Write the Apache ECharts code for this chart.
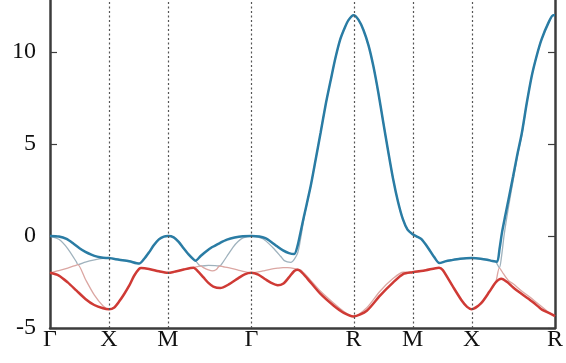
<!DOCTYPE html>
<html>
<head>
<meta charset="utf-8">
<script src="https://cdn.jsdelivr.net/npm/echarts@6/dist/echarts.min.js"></script>
<style>
  html, body { margin: 0; padding: 0; background: #ffffff; }
  #chart { width: 566px; height: 363px; }
</style>
</head>
<body>
<div id="chart"></div>
<script>
// High-symmetry points along the k-path (cumulative path length)
const kTicks = [0, 1, 2, 3.414, 5.146, 6.146, 7.146, 8.56];
const kLabels = ['Γ', 'X', 'M', 'Γ', 'R', 'M', 'X', 'R'];
const energyTicks = [-5, 0, 5, 10];

// Bands as [k, E] pairs, sorted from top to bottom
const bandTop = [
  [0,0],[0.15,-0.03],[0.28,-0.16],[0.4,-0.42],[0.5,-0.66],[0.6,-0.86],[0.7,-1.01],[0.8,-1.12],[0.9,-1.18],[1,-1.2],
  [1.174,-1.29],[1.342,-1.37],[1.51,-1.5],[1.594,-1.25],[1.678,-0.89],[1.762,-0.49],[1.846,-0.18],[1.93,-0.03],[2,0],
  [2.097,-0.07],[2.181,-0.32],[2.265,-0.67],[2.349,-1.0],[2.433,-1.27],[2.466,-1.34],[2.55,-1.1],[2.64,-0.85],[2.75,-0.6],[2.88,-0.38],[3.0,-0.2],[3.13,-0.08],[3.27,-0.01],[3.414,0],
  [3.55,-0.03],[3.65,-0.12],[3.75,-0.32],[3.85,-0.56],[3.95,-0.78],[4.05,-0.93],[4.14,-0.98],[4.195,-0.55],[4.25,0.25],[4.307,1.1],[4.418,2.7],[4.5,4.1],[4.586,5.6],[4.67,7.1],[4.76,8.5],[4.84,9.7],[4.921,10.7],[5.0,11.35],[5.062,11.75],[5.146,12.0],
  [5.23,11.75],[5.313,11.2],[5.4,10.35],[5.48,9.25],[5.565,7.8],[5.648,6.2],[5.73,4.65],[5.816,3.1],[5.9,1.85],[5.983,0.9],[6.06,0.35],[6.146,0.1],
  [6.22,-0.03],[6.292,-0.16],[6.404,-0.62],[6.515,-1.16],[6.599,-1.47],[6.7,-1.38],[6.795,-1.32],[6.95,-1.24],[7.146,-1.2],
  [7.3,-1.23],[7.411,-1.29],[7.5,-1.36],[7.579,-1.4],[7.62,-0.7],[7.662,0.2],[7.72,1.15],[7.773,2.0],[7.85,3.25],[7.92,4.4],[7.998,5.6],[8.08,7.2],[8.166,8.7],[8.25,9.8],[8.334,10.7],[8.45,11.6],[8.529,12.0],[8.56,12.0]
];

const bandUpperMid = [
  [0,0],[0.15,-0.18],[0.3,-0.68],[0.45,-1.42],[0.472,-1.56],[0.6,-1.42],[0.755,-1.3],[0.9,-1.22],[1,-1.2],
  [1.174,-1.29],[1.342,-1.37],[1.51,-1.5],[1.594,-1.25],[1.678,-0.89],[1.762,-0.49],[1.846,-0.18],[1.93,-0.03],[2,0],
  [2.097,-0.07],[2.181,-0.32],[2.265,-0.67],[2.349,-1.0],[2.433,-1.27],[2.466,-1.34],[2.517,-1.55],[2.56,-1.63],[2.685,-1.6],[2.8,-1.61],[2.874,-1.63],[2.936,-1.4],[3.02,-1.0],[3.104,-0.6],[3.188,-0.3],[3.272,-0.1],[3.414,0],
  [3.607,-0.15],[3.775,-0.62],[3.909,-1.1],[3.971,-1.34],[4.082,-1.43],[4.195,-0.95],[4.25,-0.1],[4.307,1.0],[4.418,2.7],[4.5,4.1],[4.586,5.6],[4.67,7.1],[4.76,8.5],[4.84,9.7],[4.921,10.7],[5.0,11.35],[5.062,11.75],[5.146,12.0],
  [5.23,11.75],[5.313,11.2],[5.4,10.35],[5.48,9.25],[5.565,7.8],[5.648,6.2],[5.73,4.65],[5.816,3.1],[5.9,1.85],[5.983,0.9],[6.06,0.35],[6.146,0.1],
  [6.22,-0.03],[6.292,-0.16],[6.404,-0.62],[6.515,-1.16],[6.599,-1.47],[6.7,-1.38],[6.795,-1.32],[6.95,-1.24],[7.146,-1.2],
  [7.3,-1.23],[7.411,-1.29],[7.5,-1.36],[7.555,-1.4],[7.617,-1.73],[7.65,-1.2],[7.7,0.1],[7.773,1.6],[7.85,3.0],[7.92,4.3],[7.998,5.5],[8.08,7.2],[8.166,8.7],[8.25,9.8],[8.334,10.7],[8.45,11.6],[8.529,12.0],[8.56,12.0]
];

const bandLowerMid = [
  [0,-2],[0.15,-1.88],[0.3,-1.74],[0.45,-1.58],[0.472,-1.56],[0.6,-2.35],[0.75,-3.2],[0.9,-3.8],[1,-3.98],
  [1.09,-3.88],[1.174,-3.55],[1.258,-3.15],[1.342,-2.7],[1.426,-2.16],[1.51,-1.79],[1.544,-1.74],[1.678,-1.79],[1.846,-1.92],[2,-2],
  [2.097,-1.95],[2.265,-1.82],[2.433,-1.72],[2.517,-1.65],[2.56,-1.63],[2.601,-1.72],[2.685,-1.84],[2.75,-1.9],[2.82,-1.82],[2.874,-1.63],[2.936,-1.67],[3.02,-1.72],[3.188,-1.85],[3.3,-1.94],[3.414,-2],
  [3.53,-1.95],[3.607,-1.9],[3.75,-1.8],[3.86,-1.75],[3.95,-1.72],[4.027,-1.72],[4.195,-1.8],[4.25,-1.85],[4.36,-2.2],[4.586,-3.0],[4.81,-3.65],[4.98,-4.1],[5.146,-4.37],
  [5.37,-3.9],[5.594,-3.0],[5.818,-2.3],[5.985,-1.97],[6.146,-1.97],
  [6.37,-1.86],[6.594,-1.72],[6.657,-1.85],[6.82,-2.7],[6.988,-3.55],[7.07,-3.85],[7.146,-3.98],
  [7.3,-3.68],[7.45,-3.02],[7.555,-2.52],[7.617,-1.73],[7.685,-2.05],[7.773,-2.43],[7.85,-2.6],[8.0,-3.0],[8.15,-3.35],[8.3,-3.75],[8.45,-4.15],[8.56,-4.35]
];

const bandBottom = [
  [0,-2],[0.15,-2.15],[0.3,-2.52],[0.45,-2.97],[0.6,-3.42],[0.75,-3.75],[0.9,-3.93],[1,-3.98],
  [1.09,-3.88],[1.174,-3.55],[1.258,-3.15],[1.342,-2.7],[1.426,-2.16],[1.51,-1.79],[1.544,-1.74],[1.678,-1.79],[1.846,-1.92],[2,-2],
  [2.097,-1.95],[2.265,-1.82],[2.433,-1.72],[2.517,-1.95],[2.601,-2.25],[2.685,-2.55],[2.768,-2.75],[2.886,-2.83],[3.02,-2.65],[3.188,-2.3],[3.3,-2.08],[3.414,-2],
  [3.53,-2.1],[3.65,-2.35],[3.75,-2.55],[3.86,-2.68],[3.95,-2.6],[4.05,-2.25],[4.14,-1.9],[4.195,-1.83],[4.25,-1.92],[4.36,-2.3],[4.586,-3.15],[4.81,-3.79],[4.98,-4.18],[5.146,-4.37],
  [5.37,-4.06],[5.594,-3.24],[5.818,-2.52],[5.985,-2.07],[6.146,-1.97],
  [6.37,-1.86],[6.594,-1.72],[6.657,-1.85],[6.82,-2.7],[6.988,-3.55],[7.07,-3.85],[7.146,-3.98],
  [7.3,-3.68],[7.45,-3.02],[7.555,-2.52],[7.651,-2.32],[7.75,-2.5],[7.852,-2.8],[8.003,-3.17],[8.188,-3.6],[8.339,-4.0],[8.473,-4.2],[8.56,-4.35]
];

const chart = echarts.init(document.getElementById('chart'), null, { renderer: 'canvas' });

const serif = 'Liberation Serif';
const axisColor = '#3c3c3c';
const kMax = kTicks[kTicks.length - 1];

function kLabel(v) {
  const i = kTicks.findIndex(t => Math.abs(t - v) < 1e-6);
  return i >= 0 ? kLabels[i] : '';
}

function bandSeries(name, data, color, width, z) {
  return {
    name, type: 'line', data, z,
    showSymbol: false, smooth: 0.25,
    lineStyle: { color, width },
    emphasis: { disabled: true },
    silent: true
  };
}

const series = [
  bandSeries('upperMid', bandUpperMid, '#9fb2bd', 1.3, 2),
  bandSeries('lowerMid', bandLowerMid, '#dba6a2', 1.3, 2),
  bandSeries('bottom', bandBottom, '#cf3a35', 2.5, 3),
  bandSeries('top', bandTop, '#2a7ca4', 2.5, 4)
];

// Dotted guides at the interior high-symmetry points
series[0].markLine = {
  silent: true,
  symbol: 'none',
  label: { show: false },
  lineStyle: { color: '#555', type: [2, 2.5], width: 1.2 },
  data: kTicks.slice(1, -1).map(k => ({ xAxis: k }))
};

chart.setOption({
  animation: false,
  backgroundColor: '#ffffff',
  grid: { left: 50, right: 6, top: 0, bottom: 35, containLabel: false },
  xAxis: {
    type: 'value', min: 0, max: kMax,
    axisLine: { show: true, onZero: false, lineStyle: { color: axisColor, width: 2.5 } },
    axisTick: { show: false },
    splitLine: { show: false },
    axisLabel: {
      customValues: kTicks,
      formatter: kLabel,
      showMinLabel: true, showMaxLabel: true,
      fontFamily: serif, fontSize: 24, color: '#111', margin: 0
    }
  },
  yAxis: [
    {
      type: 'value', min: -5, max: 12.83, interval: 5,
      axisLine: { show: true, onZero: false, lineStyle: { color: axisColor, width: 2.5 } },
      axisTick: { show: true, inside: true, length: 7, customValues: energyTicks, lineStyle: { color: axisColor, width: 1.2 } },
      splitLine: { show: false },
      axisLabel: {
        customValues: energyTicks,
        fontFamily: serif, fontSize: 24, color: '#111', margin: 14
      }
    },
    {
      type: 'value', min: -5, max: 12.83, interval: 5, position: 'right',
      axisLine: { show: true, onZero: false, lineStyle: { color: axisColor, width: 2.5 } },
      axisTick: { show: true, inside: true, length: 7, customValues: energyTicks, lineStyle: { color: axisColor, width: 1.2 } },
      splitLine: { show: false },
      axisLabel: { show: false }
    }
  ],
  series
});
</script>
</body>
</html>
